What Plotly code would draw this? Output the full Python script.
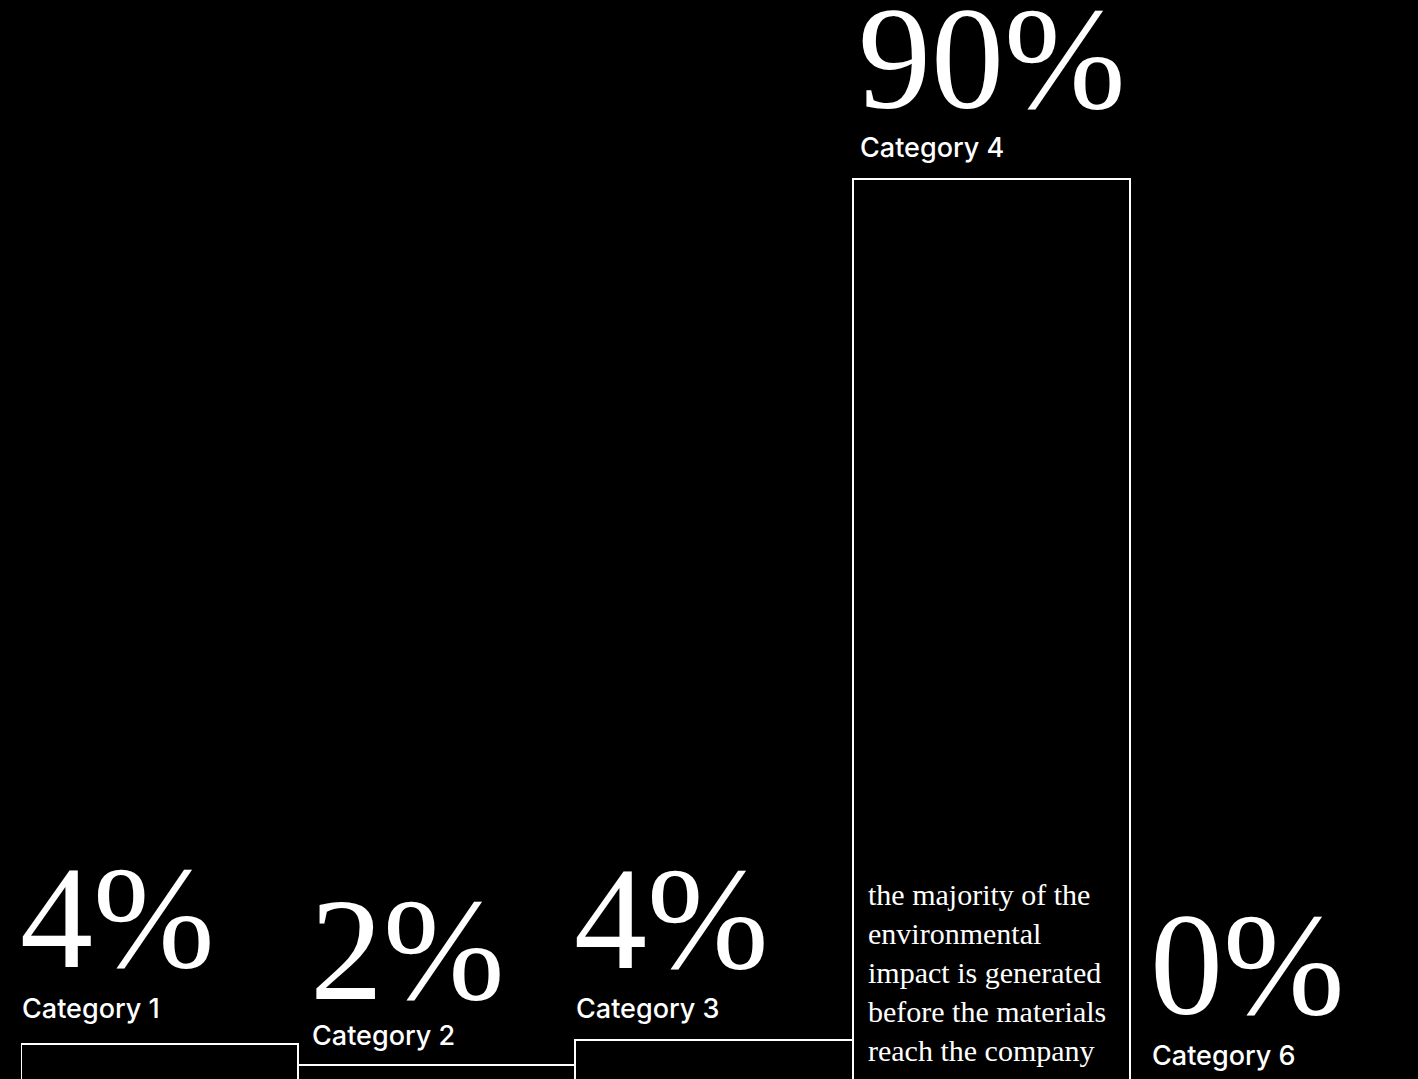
import plotly.graph_objects as go

categories = ["Category 1", "Category 2", "Category 3", "Category 4", "Category 6"]
values = [4.1, 2.0, 4.5, 90.0, 0.0]
pct_labels = ["4%", "2%", "4%", "90%", "0%"]
note_text = ["the majority of the", "environmental", "impact is generated",
             "before the materials", "reach the company"]

# layout-only constants
LABEL_XSHIFT = [-1, 12, -1, 5, 20]
LABEL_YSHIFT = [35, 29, 31, 32, 30]
PCT_YSHIFT = [43, 32, 38, 37, 37]
SERIF = "Liberation Serif, DejaVu Serif, serif"
SANS = "Inter, Roboto, sans-serif"

fig = go.Figure()
fig.add_trace(go.Bar(
    x=list(range(len(categories))), y=values,
    marker=dict(color="rgba(0,0,0,0)", line=dict(color="white", width=2)),
    width=1.0, hoverinfo="skip", showlegend=False,
))

for i, (cat, v, lab) in enumerate(zip(categories, values, pct_labels)):
    fig.add_annotation(x=i - 0.5, y=v, xref="x", yref="y", text=cat,
                       xanchor="left", yanchor="middle", yshift=LABEL_YSHIFT[i],
                       xshift=LABEL_XSHIFT[i], showarrow=False,
                       font=dict(family=SANS, size=27, color="white", weight=500))
    fig.add_annotation(x=i - 0.5, y=v, xref="x", yref="y", text=lab,
                       xanchor="left", yanchor="bottom", yshift=PCT_YSHIFT[i],
                       xshift=LABEL_XSHIFT[i] - 2, showarrow=False,
                       font=dict(family=SERIF, size=146, color="white"))

big_idx = values.index(max(values))
fig.add_annotation(x=big_idx - 0.5, y=0, xref="x", yref="paper",
                   text="<br>".join(note_text), align="left",
                   xanchor="left", yanchor="bottom", xshift=13, yshift=16,
                   showarrow=False,
                   font=dict(family=SERIF, size=30, color="white"))

# the figure is a little taller than the window so the bar baseline sits just below view
fig.update_layout(
    width=1418, height=1085,
    paper_bgcolor="black", plot_bgcolor="black",
    margin=dict(l=21, r=11, t=0, b=0),
    bargap=0,
    xaxis=dict(range=[-0.5, len(categories) - 0.5], visible=False, fixedrange=True),
    yaxis=dict(range=[0, 107.8], visible=False, fixedrange=True),
)

fig.write_html("out.html", config={"displayModeBar": False},
               post_script="document.body.style.margin='0';document.body.style.background='black';document.body.style.overflow='hidden';")
